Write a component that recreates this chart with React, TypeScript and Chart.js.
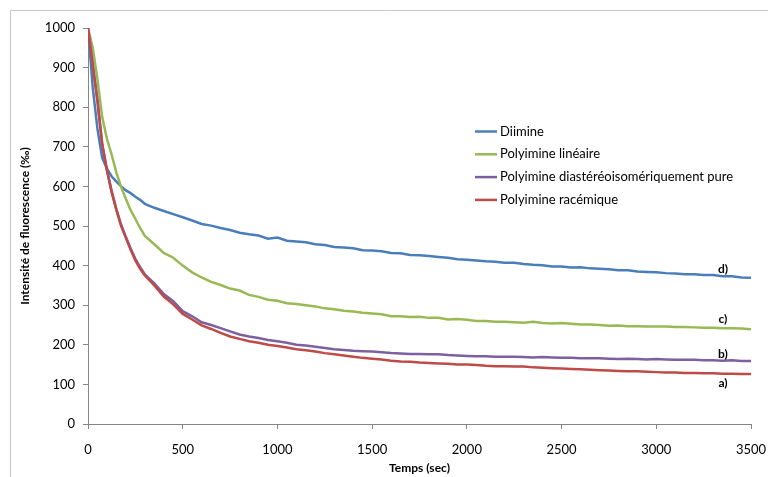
import React, { useEffect, useRef } from "react";
import { Chart, registerables } from "chart.js";

Chart.register(...registerables);

const times = [
  0, 25, 50, 75, 100, 125, 150, 175, 200, 225, 250, 275, 300,
  350, 400, 450, 500, 550, 600, 650, 700, 750, 800,
  850, 900, 950, 1000, 1050, 1100, 1150, 1200, 1250, 1300,
  1350, 1400, 1450, 1500, 1550, 1600, 1650, 1700, 1750, 1800,
  1850, 1900, 1950, 2000, 2050, 2100, 2150, 2200, 2250, 2300,
  2350, 2400, 2450, 2500, 2550, 2600, 2650, 2700, 2750, 2800,
  2850, 2900, 2950, 3000, 3050, 3100, 3150, 3200, 3250, 3300,
  3350, 3400, 3450, 3500,
];

const diimine = [
  1000, 850, 745, 672, 645, 625, 612, 600, 590, 583, 574, 566, 556,
  546, 538, 530, 522, 514, 505, 501, 495, 490, 483,
  479, 476, 468, 471, 463, 461, 459, 454, 452, 447,
  446, 444, 439, 438, 436, 432, 431, 427, 426, 424,
  422, 420, 416, 415, 413, 411, 410, 407, 407, 404,
  402, 401, 398, 398, 395, 396, 393, 392, 391, 388,
  388, 385, 384, 383, 381, 380, 378, 378, 376, 376,
  373, 373, 370, 369,
];

const lineaire = [
  1000, 950, 870, 775, 720, 680, 635, 598, 568, 540, 518, 495, 475,
  454, 432, 420, 400, 383, 370, 359, 351, 342, 337,
  326, 321, 314, 311, 305, 303, 300, 297, 292, 290,
  286, 284, 281, 279, 277, 272, 272, 270, 271, 268,
  268, 264, 265, 263, 260, 260, 258, 258, 257, 256,
  258, 255, 254, 255, 253, 251, 251, 250, 248, 249,
  247, 247, 246, 246, 246, 245, 245, 244, 243, 243,
  242, 242, 241, 239,
];

const diastereo = [
  1000, 908, 818, 708, 642, 588, 542, 503, 472, 443, 417, 396, 378,
  355, 328, 310, 285, 272, 257, 250, 242, 234, 226,
  221, 217, 212, 209, 205, 200, 198, 195, 192, 189,
  187, 185, 184, 183, 181, 179, 178, 177, 177, 176,
  176, 174, 173, 172, 171, 171, 170, 170, 170, 169,
  168, 169, 168, 167, 167, 166, 166, 166, 165, 164,
  165, 164, 163, 164, 163, 162, 162, 162, 161, 161,
  160, 161, 159, 159,
];

const racemique = [
  1000, 905, 815, 705, 640, 585, 540, 500, 470, 440, 413, 392, 375,
  350, 322, 302, 278, 264, 249, 240, 230, 221, 215,
  209, 205, 200, 197, 193, 189, 186, 183, 179, 176,
  173, 170, 167, 165, 163, 160, 158, 157, 155, 154,
  153, 152, 150, 150, 149, 147, 146, 146, 145, 145,
  143, 142, 141, 140, 139, 138, 137, 136, 135, 134,
  133, 133, 132, 131, 130, 130, 129, 129, 128, 128,
  127, 127, 126, 126,
];

const seriesNames = [
  "Diimine",
  "Polyimine linéaire",
  "Polyimine diastéréoisomériquement pure",
  "Polyimine racémique",
];
const seriesColors = ["#4A7EBB", "#98B954", "#7D60A0", "#BE4B48"];

const curveLabels = ["d)", "c)", "b)", "a)"];
const curveLabelX = 3352;
const curveLabelY = [391, 265, 177, 104];

const FONT = "Lato, 'Open Sans', sans-serif";

export default function App() {
  const ref = useRef<HTMLCanvasElement | null>(null);

  useEffect(() => {
    if (!ref.current) return;
    const allSeries = [diimine, lineaire, diastereo, racemique];
    const datasets = allSeries.map((vals, i) => ({
      label: seriesNames[i],
      data: times.map((t, j) => ({ x: t, y: vals[j] })),
      borderColor: seriesColors[i],
      backgroundColor: seriesColors[i],
      borderWidth: 2.5,
      pointRadius: 0,
      tension: 0,
      fill: false,
      order: 3 - i,
    }));

    const framePlugin = {
      id: "frame",
      beforeDraw(chart: any) {
        const c = chart.ctx;
        c.save();
        c.fillStyle = "#ffffff";
        c.fillRect(0, 0, chart.width, chart.height);
        c.strokeStyle = "#c8c8c8";
        c.lineWidth = 1;
        c.beginPath();
        c.moveTo(10.5, chart.height);
        c.lineTo(10.5, 10.5);
        c.lineTo(chart.width, 10.5);
        c.stroke();
        c.restore();
      },
    };

    const overlayPlugin = {
      id: "overlay",
      afterDraw(chart: any) {
        const c = chart.ctx;
        const xs = chart.scales.x;
        const ys = chart.scales.y;
        c.save();
        c.font = `13px ${FONT}`;
        c.textBaseline = "middle";
        c.textAlign = "left";
        chart.data.datasets.forEach((ds: any, i: number) => {
          const y = 131.5 + i * 22.8;
          c.strokeStyle = ds.borderColor;
          c.lineWidth = 2.5;
          c.beginPath();
          c.moveTo(475, y);
          c.lineTo(497, y);
          c.stroke();
          c.fillStyle = "#000000";
          c.fillText(ds.label, 500, y);
        });
        c.font = `bold 12px ${FONT}`;
        c.textAlign = "center";
        curveLabels.forEach((lab, i) => {
          c.fillText(
            lab,
            xs.getPixelForValue(curveLabelX),
            ys.getPixelForValue(curveLabelY[i])
          );
        });
        c.restore();
      },
    };

    const chart = new Chart(ref.current, {
      type: "line",
      data: { datasets: datasets as any },
      plugins: [framePlugin, overlayPlugin],
      options: {
        animation: false,
        responsive: false,
        layout: { padding: { top: 28, right: 17, left: 0, bottom: 0 } },
        plugins: {
          legend: { display: false },
          tooltip: { enabled: false },
        },
        scales: {
          x: {
            type: "linear",
            min: 0,
            max: 3500,
            afterFit: (s: any) => {
              s.height = 53;
              s.paddingRight = 0;
              s.paddingLeft = 0;
            },
            ticks: {
              stepSize: 500,
              color: "#000",
              padding: 13,
              maxRotation: 0,
              font: { family: FONT, size: 13 },
              callback: (v: any) => String(v),
            },
            grid: {
              display: true,
              drawOnChartArea: false,
              drawTicks: true,
              tickLength: 5,
              color: "#868686",
            },
            border: { display: true, color: "#868686", width: 1 },
            title: {
              display: true,
              text: "Temps (sec)",
              color: "#000",
              font: { family: FONT, size: 12, weight: "bold" },
              padding: { top: 0, bottom: 2 },
            },
          },
          y: {
            type: "linear",
            min: 0,
            max: 1000,
            afterFit: (s: any) => {
              s.width = 88;
              s.paddingTop = 0;
              s.paddingBottom = 0;
            },
            ticks: {
              stepSize: 100,
              color: "#000",
              padding: 8,
              font: { family: FONT, size: 13 },
              callback: (v: any) => String(v),
            },
            grid: {
              display: true,
              drawOnChartArea: false,
              drawTicks: true,
              tickLength: 5,
              color: "#868686",
            },
            border: { display: true, color: "#868686", width: 1 },
            title: {
              display: true,
              text: "Intensité de fluorescence (‰)",
              color: "#000",
              font: { family: FONT, size: 12, weight: "bold" },
              padding: { top: 18, bottom: 0 },
            },
          },
        },
      },
    });
    return () => chart.destroy();
  }, []);

  return (
    <div style={{ position: "absolute", left: 0, top: 0, width: 768, height: 477 }}>
      <canvas ref={ref} width={768} height={477} style={{ width: 768, height: 477 }} />
    </div>
  );
}
